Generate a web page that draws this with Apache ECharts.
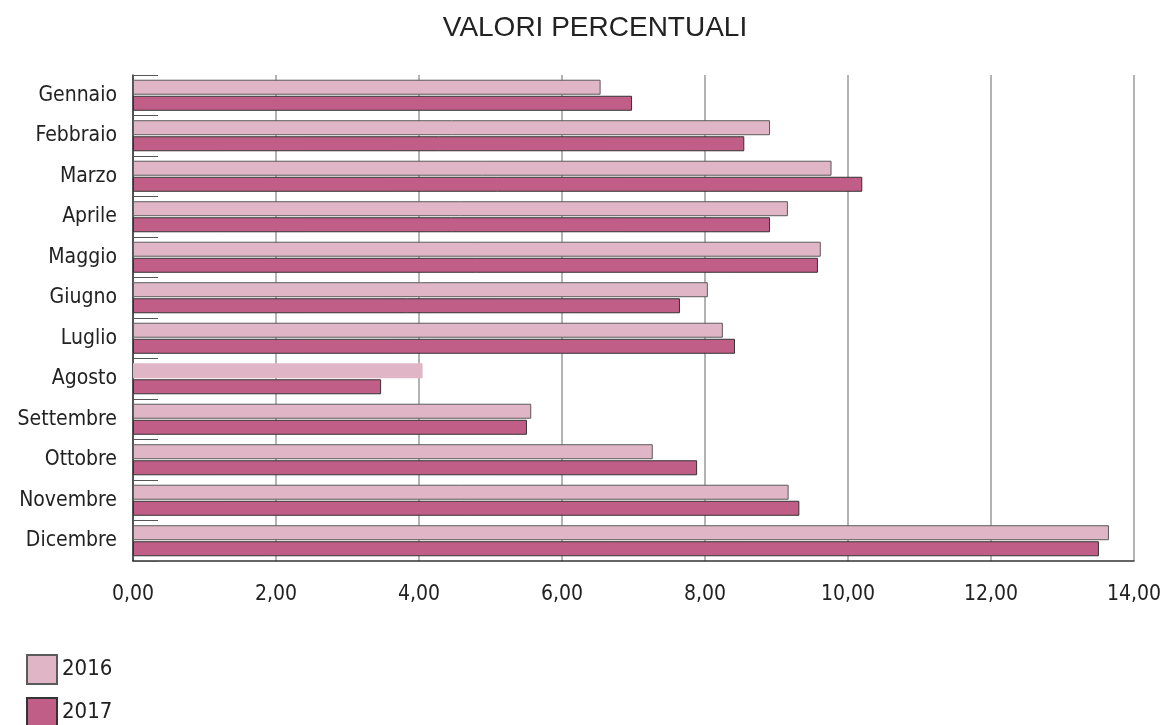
<!DOCTYPE html>
<html>
<head>
<meta charset="utf-8">
<script src="https://cdn.jsdelivr.net/npm/echarts@6/dist/echarts.min.js"></script>
<style>
html,body{margin:0;padding:0;background:#fff;}
#chart{width:1164px;height:725px;}
</style>
</head>
<body>
<div id="chart"></div>
<script>
const categories = ['Gennaio','Febbraio','Marzo','Aprile','Maggio','Giugno','Luglio','Agosto','Settembre','Ottobre','Novembre','Dicembre'];
const values2016 = [6.54, 8.91, 9.77, 9.16, 9.62, 8.04, 8.25, 4.05, 5.57, 7.27, 9.17, 13.65];
const values2017 = [6.98, 8.55, 10.20, 8.91, 9.58, 7.65, 8.42, 3.47, 5.51, 7.89, 9.32, 13.51];
const seriesNames = ['2016', '2017'];
const xTicks = { min: 0, max: 14, interval: 2 };

const narrow = '"DejaVu Sans Condensed", "Liberation Sans Narrow", sans-serif';
const chart = echarts.init(document.getElementById('chart'), null, { renderer: 'canvas' });

const data2016 = values2016.map(function (v, i) {
  return i === 7 ? { value: v, itemStyle: { borderWidth: 0 } } : v;
});

function legendFor(name, top) {
  return {
    orient: 'vertical', left: 26, top: top, padding: 0, itemGap: 0,
    itemWidth: 30, itemHeight: 29, icon: 'rect',
    textStyle: { fontFamily: narrow, fontSize: 22, color: '#222', padding: [0, 0, 0, 0] },
    data: [name]
  };
}

chart.setOption({
  animation: false,
  backgroundColor: '#ffffff',
  title: {
    text: 'VALORI PERCENTUALI',
    left: 590, top: 9, textAlign: 'center',
    textStyle: { fontFamily: '"Liberation Sans", Arial, sans-serif', fontSize: 28, fontWeight: 'normal', color: '#222' }
  },
  legend: [legendFor(seriesNames[0], 654), legendFor(seriesNames[1], 697)],
  grid: { left: 133, right: 27, top: 75, bottom: 164, containLabel: false },
  xAxis: {
    type: 'value', min: xTicks.min, max: xTicks.max, interval: xTicks.interval,
    axisLine: { show: true, lineStyle: { color: '#333', width: 1.5 } },
    axisTick: { show: false },
    axisLabel: {
      margin: 23, fontFamily: narrow, fontSize: 21, color: '#222',
      formatter: function (v) { return v.toFixed(2).replace('.', ','); }
    },
    splitLine: { show: true, lineStyle: { color: '#9a9a9a', width: 1.5 } }
  },
  yAxis: {
    type: 'category', data: categories, inverse: true,
    axisLine: { show: true, lineStyle: { color: '#333', width: 1.5 } },
    axisTick: { show: true, inside: true, length: 25, lineStyle: { color: '#555', width: 1 } },
    axisLabel: { margin: 16, fontFamily: narrow, fontSize: 21, color: '#222' }
  },
  series: [
    {
      name: seriesNames[0], type: 'bar', data: data2016,
      barWidth: 15, barGap: '7%',
      itemStyle: { color: '#e0b6c6', borderColor: '#5a5a5a', borderWidth: 1 }
    },
    {
      name: seriesNames[1], type: 'bar', data: values2017,
      barWidth: 15, barGap: '7%',
      itemStyle: { color: '#c05e87', borderColor: '#333', borderWidth: 1 }
    }
  ]
});
</script>
</body>
</html>
